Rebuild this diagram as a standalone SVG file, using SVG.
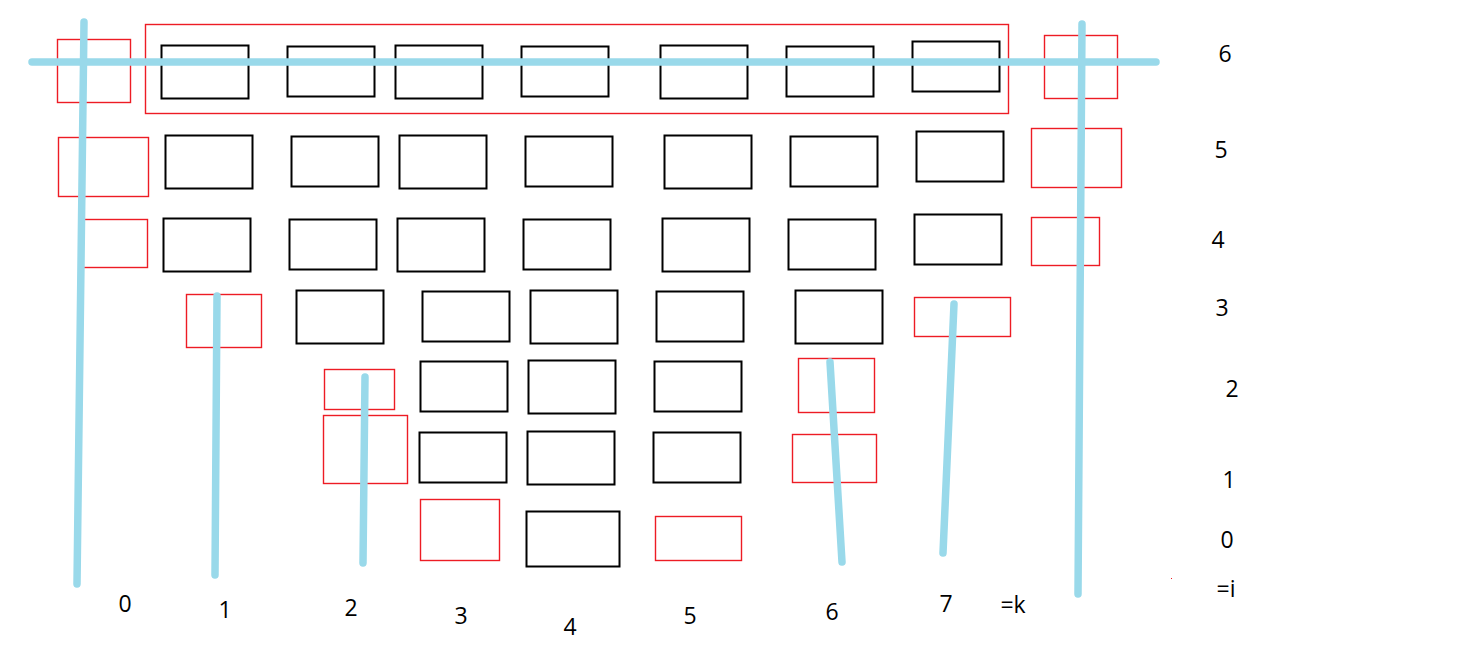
<svg xmlns="http://www.w3.org/2000/svg" width="1462" height="670" viewBox="0 0 1462 670">
<style>
.b{fill:none;stroke:#000;stroke-width:2}
.r{fill:none;stroke:#ed1c24;stroke-width:1.4}
.l{stroke:#99d9ea;stroke-width:7.5;stroke-linecap:round;fill:none}
.t{font-family:"Open Sans","DejaVu Sans",sans-serif;font-size:23px;fill:#000;text-anchor:middle}
</style>
<rect width="1462" height="670" fill="#fff"/>
<g id="row6">
<rect id="n6_g" class="r" x="145.5" y="24.5" width="863" height="89"/>
<rect id="n6_0" class="r" x="57.5" y="39.5" width="73" height="63"/>
<rect id="n6_1" class="b" x="161.5" y="45.5" width="87" height="53"/>
<rect id="n6_2" class="b" x="287.5" y="46.5" width="87" height="50"/>
<rect id="n6_3" class="b" x="395.5" y="45.5" width="87" height="53"/>
<rect id="n6_4" class="b" x="521.5" y="46.5" width="87" height="50"/>
<rect id="n6_5" class="b" x="660.5" y="45.5" width="87" height="53"/>
<rect id="n6_6" class="b" x="786.5" y="46.5" width="87" height="50"/>
<rect id="n6_7" class="b" x="912.5" y="41.5" width="87" height="50"/>
<rect id="n6_8" class="r" x="1044.5" y="35.5" width="73" height="63"/>
</g>
<g id="row5">
<rect id="n5_0" class="r" x="58.5" y="137.5" width="90" height="59"/>
<rect id="n5_1" class="b" x="165.5" y="135.5" width="87" height="53"/>
<rect id="n5_2" class="b" x="291.5" y="136.5" width="87" height="50"/>
<rect id="n5_3" class="b" x="399.5" y="135.5" width="87" height="53"/>
<rect id="n5_4" class="b" x="525.5" y="136.5" width="87" height="50"/>
<rect id="n5_5" class="b" x="664.5" y="135.5" width="87" height="53"/>
<rect id="n5_6" class="b" x="790.5" y="136.5" width="87" height="50"/>
<rect id="n5_7" class="b" x="916.5" y="131.5" width="87" height="50"/>
<rect id="n5_8" class="r" x="1031.5" y="128.5" width="90" height="59"/>
</g>
<g id="row4">
<rect id="n4_0" class="r" x="80.5" y="219.5" width="67" height="48"/>
<rect id="n4_1" class="b" x="163.5" y="218.5" width="87" height="53"/>
<rect id="n4_2" class="b" x="289.5" y="219.5" width="87" height="50"/>
<rect id="n4_3" class="b" x="397.5" y="218.5" width="87" height="53"/>
<rect id="n4_4" class="b" x="523.5" y="219.5" width="87" height="50"/>
<rect id="n4_5" class="b" x="662.5" y="218.5" width="87" height="53"/>
<rect id="n4_6" class="b" x="788.5" y="219.5" width="87" height="50"/>
<rect id="n4_7" class="b" x="914.5" y="214.5" width="87" height="50"/>
<rect id="n4_8" class="r" x="1031.5" y="217.5" width="68" height="48"/>
</g>
<g id="row3">
<rect id="n3_1" class="r" x="186.5" y="294.5" width="75" height="53"/>
<rect id="n3_2" class="b" x="296.5" y="290.5" width="87" height="53"/>
<rect id="n3_3" class="b" x="422.5" y="291.5" width="87" height="50"/>
<rect id="n3_4" class="b" x="530.5" y="290.5" width="87" height="53"/>
<rect id="n3_5" class="b" x="656.5" y="291.5" width="87" height="50"/>
<rect id="n3_6" class="b" x="795.5" y="290.5" width="87" height="53"/>
<rect id="n3_7" class="r" x="914.5" y="297.5" width="96" height="39"/>
</g>
<g id="row2">
<rect id="n2_2" class="r" x="324.5" y="369.5" width="70" height="40"/>
<rect id="n2_3" class="b" x="420.5" y="361.5" width="87" height="50"/>
<rect id="n2_4" class="b" x="528.5" y="360.5" width="87" height="53"/>
<rect id="n2_5" class="b" x="654.5" y="361.5" width="87" height="50"/>
<rect id="n2_6" class="r" x="798.5" y="358.5" width="76" height="54"/>
</g>
<g id="row1">
<rect id="n1_2" class="r" x="323.5" y="415.5" width="84" height="68"/>
<rect id="n1_3" class="b" x="419.5" y="432.5" width="87" height="50"/>
<rect id="n1_4" class="b" x="527.5" y="431.5" width="87" height="53"/>
<rect id="n1_5" class="b" x="653.5" y="432.5" width="87" height="50"/>
<rect id="n1_6" class="r" x="792.5" y="434.5" width="84" height="48"/>
</g>
<g id="row0">
<rect id="n0_3" class="r" x="420.5" y="499.5" width="79" height="61"/>
<rect id="n0_4" class="b" x="526.5" y="511.5" width="93" height="55"/>
<rect id="n0_5" class="r" x="655.5" y="516.5" width="86" height="44"/>
</g>
<g id="connectors">
<line class="l" x1="32" y1="62" x2="1156" y2="62"/>
<line class="l" x1="84" y1="22" x2="77" y2="584"/>
<line class="l" x1="1082" y1="24" x2="1078" y2="594"/>
<line class="l" x1="217" y1="296" x2="215" y2="575"/>
<line class="l" x1="365" y1="377" x2="363" y2="563"/>
<line class="l" x1="830" y1="362" x2="842" y2="562"/>
<line class="l" x1="954" y1="304" x2="943" y2="553"/>
</g>
<rect x="1171" y="578" width="1" height="1" fill="#ed1c24"/>
<g id="labels-k">
<text class="t" x="125" y="612">0</text>
<text class="t" x="225" y="618">1</text>
<text class="t" x="351" y="616">2</text>
<text class="t" x="461" y="624">3</text>
<text class="t" x="570" y="635">4</text>
<text class="t" x="690" y="624">5</text>
<text class="t" x="832" y="620">6</text>
<text class="t" x="946" y="612">7</text>
<text class="t" x="1013" y="613">=k</text>
</g>
<g id="labels-i">
<text class="t" x="1225" y="62">6</text>
<text class="t" x="1221" y="158">5</text>
<text class="t" x="1218" y="248">4</text>
<text class="t" x="1222" y="316">3</text>
<text class="t" x="1232" y="397">2</text>
<text class="t" x="1229" y="488">1</text>
<text class="t" x="1227" y="548">0</text>
<text class="t" x="1226" y="597">=i</text>
</g>
</svg>
